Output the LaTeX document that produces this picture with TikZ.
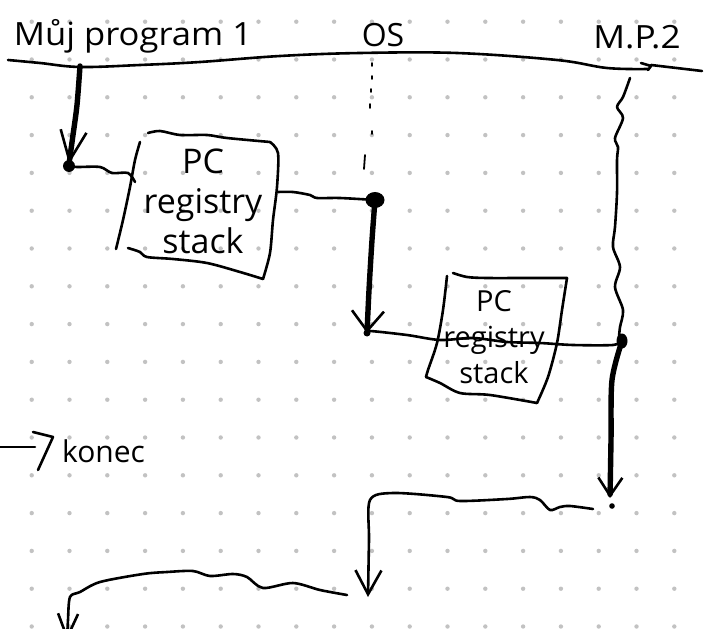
\documentclass[tikz,border=0pt]{standalone}
\usepackage{fontspec}
\setmainfont{Open Sans}
\usetikzlibrary{arrows.meta}

\tikzset{
  pen/.style={line width=2.6pt, line cap=round, line join=round},
  heavy/.style={line width=5.4pt, line cap=round, line join=round},
  griddot/.style={fill=black!24},
  blob/.style={fill=black},
  hand/.style={inner sep=0pt, font=\fontsize{#1}{#1}\selectfont},
  boxtext/.style 2 args={inner sep=0pt, align=center, font=\fontsize{#1}{#2}\selectfont},
  barb/.style 2 args={-{Straight Barb[length=#1pt, width=#2pt, line width=2.6pt]}},
}

\begin{document}
\begin{tikzpicture}[x=1pt, y=-1pt]
\useasboundingbox (0,0) rectangle (708,628);
\clip (0,0) rectangle (708,628);

% dotted paper
\foreach \i in {0,...,17}
  \foreach \j in {0,...,16}
    \fill[griddot] ({31.7+37.8*\i},{21.7+37.8*\j}) circle (2.2pt);

% headings over the time line
\node[hand=32, xscale=1.08] (prog1) at (133,36) {Můj program 1};
\node[hand=32] (os) at (383,35) {OS};
\node[hand=32, xscale=1.1] (prog2) at (637,37) {M.P.2};

% time line
\draw[pen] plot[smooth, tension=0.6] coordinates {(8,60) (40,63) (80,67) (140,65) (200,62) (280,56) (360,53) (457,53) (557,60) (607,68) (648,69)};
\draw[pen] (641,63) -- (651,66) -- (648,70);
\draw[pen] (651,65) -- (702,71);

% key points
\coordinate (p1top) at (80,66);
\coordinate (p1stop) at (69,166);
\coordinate (osdot) at (375,200);
\coordinate (osstop) at (367,333);
\coordinate (p2top) at (630,78);
\coordinate (p2dot) at (622,341);
\coordinate (p2stop) at (610,498);
\coordinate (b1in) at (135,182);
\coordinate (b1out) at (278,192);
\coordinate (loopA) at (593,509);
\coordinate (turnA) at (370,500);
\coordinate (endA) at (368,597);
\coordinate (loopB) at (347,595);
\coordinate (turnB) at (70,597);
\coordinate (endB) at (67,641);

% saved context of program 1
\node[boxtext={34}{40}] (box1) at (203,201) {PC\\registry\\stack};
\draw[pen] plot[smooth] coordinates {(148,133) (160,131) (180,135) (207,135) (227,138) (270,142)};
\draw[pen] plot[smooth] coordinates {(270,142) (278,153) (277,187) (273,220) (270,253) (263,279)};
\draw[pen] plot[smooth] coordinates {(140,142) (135,160) (130,187) (123,220) (116,249)};
\draw[pen] plot[smooth] coordinates {(128,248) (140,252) (147,257) (173,259) (207,263) (240,272) (263,279)};

% saved context of program 2
\node[boxtext={29}{36}] (box2) at (494,337) {PC\\registry\\stack};
\draw[pen] plot[smooth] coordinates {(453,273) (467,277) (487,278) (527,278) (567,278)};
\draw[pen] plot[smooth] coordinates {(567,278) (562,310) (557,343) (548,377) (537,403)};
\draw[pen] plot[smooth] coordinates {(447,276) (443,310) (437,343) (428,370) (426,377)};
\draw[pen] plot[smooth] coordinates {(426,377) (440,383) (460,393) (490,395) (537,403)};

% program 1 runs, then is interrupted
\draw[heavy, barb={30}{26}] plot[smooth] coordinates {(p1top) (77,105) (73,135) (69,164)};
\fill[blob] (p1stop) circle (6pt);
\draw[pen] plot[smooth, tension=0.5] coordinates {(p1stop) (77,167) (100,167) (112,173) (128,173) (b1in)};
\draw[pen] plot[smooth, tension=0.5] coordinates {(b1out) (293,192) (310,195) (317,198) (340,198) (osdot)};

% OS idle (dotted) and OS running
\foreach \a/\b in {{(372,63)}/{(372,66)}, {(372,76)}/{(372,79)}, {(371,89)}/{(371,92)}, {(370,104)}/{(370,108)}, {(372,131)}/{(372,134)}, {(365,155)}/{(364,169)}}
  \draw[line width=1.8pt, line cap=round] \a -- \b;
\fill[blob] (osdot) ellipse (9.5pt and 8pt);
\draw[heavy, barb={20}{32}] plot[smooth] coordinates {(osdot) (372,240) (369,290) (osstop)};
\fill[blob] (osstop) circle (3.5pt);

% switch to program 2
\draw[pen] plot[smooth, tension=0.5] coordinates {(osstop) (370,331) (407,335) (440,340) (473,338) (507,342) (540,343) (573,345) (613,345) (p2dot)};

% program 2 waiting, then running
\draw[pen] plot[smooth] coordinates {(p2top) (623,97) (617,107) (623,118) (615,138) (618,147) (617,160) (617,193) (615,227) (613,247) (620,267) (615,287) (623,310) (620,327) (619,337)};
\fill[blob] (p2dot) ellipse (5.5pt and 7.5pt);
\draw[heavy, barb={18}{24}] plot[smooth] coordinates {(p2dot) (612,380) (611,440) (p2stop)};
\fill[blob] (612,506) circle (2.8pt);

% back to the OS, then back to program 1
\draw[pen, barb={24}{26}] plot[smooth, tension=0.5] coordinates {(loopA) (570,506) (560,507) (550,510) (540,500) (530,497) (507,499) (460,501) (447,497) (393,493) (turnA) (369,540) (endA)};
\draw[pen, barb={24}{20}] plot[smooth, tension=0.5] coordinates {(loopB) (320,590) (293,583) (263,588) (247,577) (233,574) (210,576) (193,571) (167,572) (143,574) (100,582) (80,592) (turnB) (68,620) (endB)};

% the end
\coordinate (kin) at (0,447);
\coordinate (khead) at (35,447);
\draw[pen] (kin) -- (khead);
\draw[pen] (33,432) -- (53,437) -- (38,470);
\node[hand=30, anchor=west] (konec) at (62,451) {konec};
\end{tikzpicture}
\end{document}
